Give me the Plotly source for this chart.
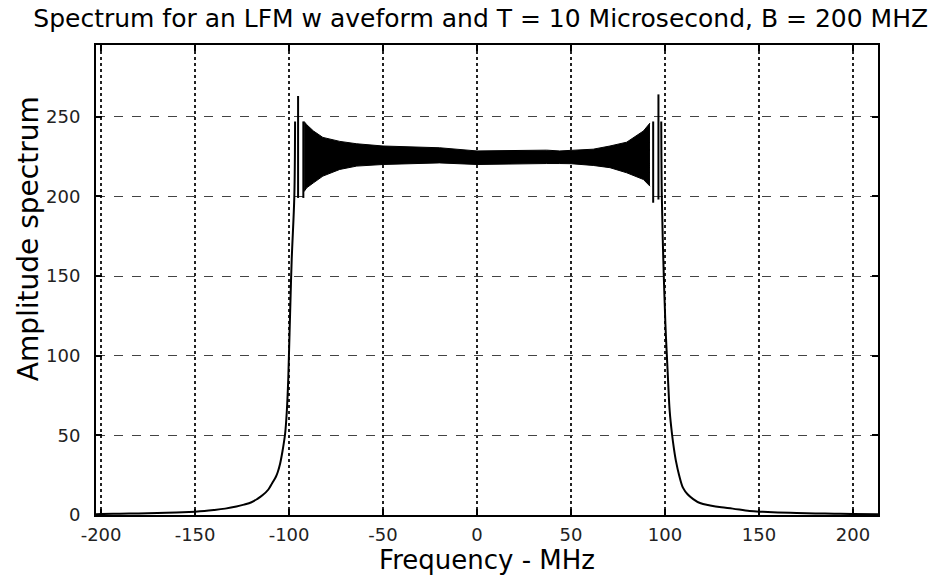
import plotly.graph_objects as go

# ---- data ----
left_f = [-202.7, -200, -190, -180, -170, -160, -150, -145, -140, -134, -128, -124, -120, -117, -114, -111,
          -109, -107, -106, -104.8, -103.5, -102.1, -101.2, -100.4, -99.6, -98.6, -97.2, -96.8]
left_a = [0.5, 0.6, 0.8, 1.0, 1.3, 1.6, 2.1, 2.5, 3.1, 4.0, 5.3, 6.5, 8.0, 10, 12.5, 16,
          20, 24, 27, 32, 40, 51, 65, 86, 120, 160, 200, 247]

right_f = [98.0, 98.3, 99.1, 100.2, 101.6, 102.5, 103.7, 104.7, 105.8, 107.5, 109.6, 112, 115, 118.6,
           124, 130, 136, 145, 152, 160, 170, 180, 190, 200, 213.3]
right_a = [247, 200, 160, 120, 85, 65, 51, 42, 34, 25, 17, 13, 10, 7.5,
           6.0, 4.8, 4.0, 2.5, 2.0, 1.6, 1.3, 1.0, 0.8, 0.6, 0.5]

band_f = [-92, -90.6, -87, -82, -73, -64, -50, -37, -20, 0, 20, 37, 44, 50, 61.8, 70.7, 79.6, 88.5, 92]
band_hi = [247, 245, 241, 237, 234.5, 233, 231.6, 231, 230.5, 228.5, 229, 229, 228.5, 229, 229.6, 231.6, 234, 241, 246]
band_lo = [203, 205.4, 208.5, 212.7, 216.9, 219, 220, 220.6, 221, 220, 220.5, 220.6, 220.6, 220.5, 219.4, 218, 214.8, 210.6, 206.4]

spike_f = [-95.2, -92.4, 93.7, 96.5]
spike_top = [263, 247, 247, 264]
spike_bot = [199, 199, 196, 198]

x_ticks = [-200, -150, -100, -50, 0, 50, 100, 150, 200]
y_ticks = [0, 50, 100, 150, 200, 250]

title_text = "Spectrum for an LFM w aveform and T = 10 Microsecond, B = 200 MHZ"
x_title = "Frequency - MHz"
y_title = "Amplitude spectrum"

# ---- figure ----
fig = go.Figure()

fig.add_trace(go.Scatter(x=band_f, y=band_lo, mode="lines",
                         line=dict(color="black", width=1), showlegend=False, hoverinfo="skip"))
fig.add_trace(go.Scatter(x=band_f, y=band_hi, mode="lines", fill="tonexty",
                         fillcolor="black", line=dict(color="black", width=1),
                         showlegend=False, hoverinfo="skip"))

sx, sy = [], []
for f, t, b in zip(spike_f, spike_top, spike_bot):
    sx += [f, f, None]
    sy += [b, t, None]
fig.add_trace(go.Scatter(x=sx, y=sy, mode="lines", line=dict(color="black", width=2),
                         showlegend=False, hoverinfo="skip"))

fig.add_trace(go.Scatter(x=left_f, y=left_a, mode="lines", line_shape="spline",
                         line=dict(color="black", width=2), showlegend=False))
fig.add_trace(go.Scatter(x=right_f, y=right_a, mode="lines", line_shape="spline",
                         line=dict(color="black", width=2), showlegend=False))

label_family = "DejaVu Sans, Verdana, sans-serif"

fig.update_layout(
    width=937, height=576,
    margin=dict(l=96, r=59, t=45, b=59),
    paper_bgcolor="white", plot_bgcolor="white",
    font=dict(family=label_family, color="#111"),
    title=dict(text=title_text, x=0.513, xanchor="center", y=0.969, yanchor="middle",
               yref="container", font=dict(family=label_family, size=25, color="black")),
    annotations=[dict(
        text=y_title, textangle=-90, showarrow=False,
        xref="paper", yref="paper", x=(28 - 96) / 782, y=(517 - 240) / 472,
        xanchor="center", yanchor="middle",
        font=dict(family=label_family, size=28, color="black"),
    )],
)

fig.update_xaxes(
    range=[-202.7, 213.3], tickvals=x_ticks, ticktext=[str(v) for v in x_ticks],
    showgrid=True, gridcolor="#222", griddash="dot", gridwidth=1.5,
    showline=True, linecolor="black", linewidth=2, mirror="ticks",
    ticks="inside", ticklen=6, tickcolor="black", tickwidth=1.5,
    tickfont=dict(size=18, color="#222"), zeroline=False, ticklabelstandoff=2,
    title=dict(text=x_title, font=dict(family=label_family, size=26, color="black"), standoff=1),
)
fig.update_yaxes(
    range=[0, 295], tickvals=y_ticks, ticktext=[str(v) for v in y_ticks],
    showgrid=True, gridcolor="#444", griddash="dash", gridwidth=1,
    showline=True, linecolor="black", linewidth=2, mirror="ticks",
    ticks="inside", ticklen=6, tickcolor="black", tickwidth=1.5,
    tickfont=dict(size=18, color="#222"), zeroline=False, ticklabelstandoff=10,
)

fig.write_html("out.html")
